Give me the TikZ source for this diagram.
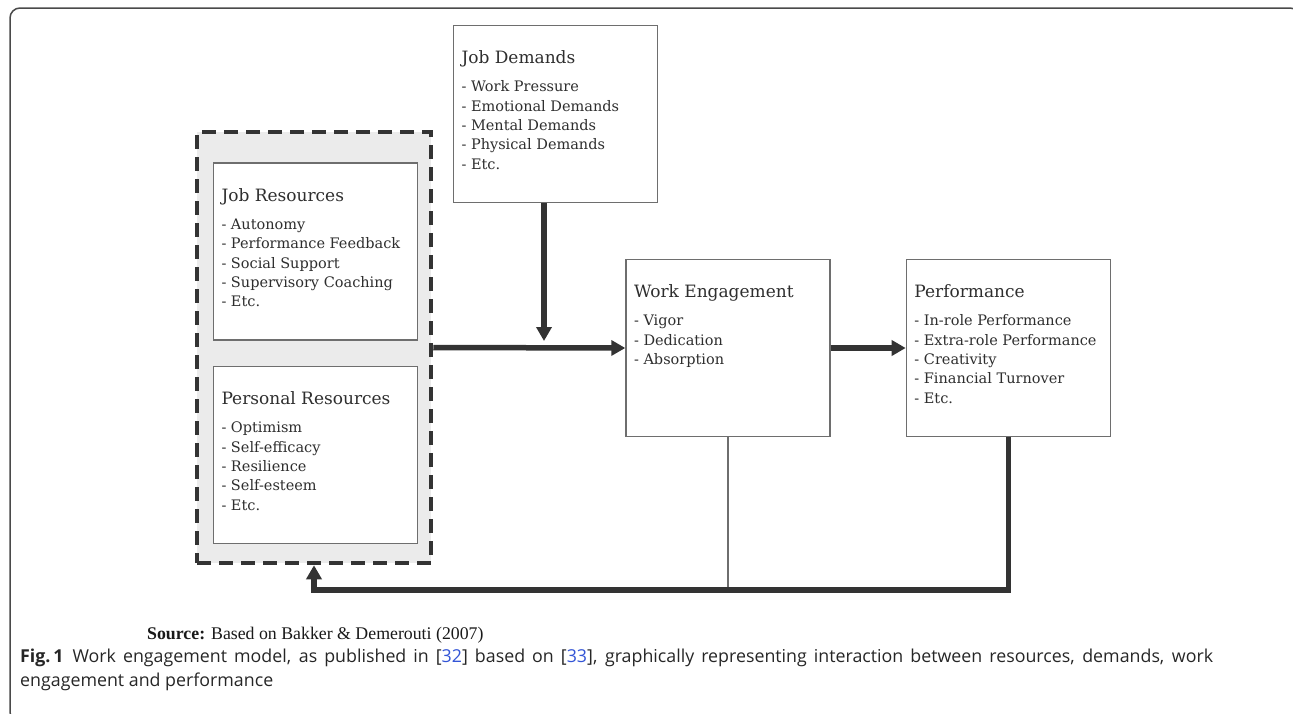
\documentclass[tikz,border=0pt]{standalone}
\usepackage{fontspec}
\setmainfont{DejaVu Serif}
\newfontfamily\srcfont{Liberation Serif}
\newfontfamily\capfont{Open Sans}
\usetikzlibrary{arrows.meta,positioning}
\definecolor{framegrey}{HTML}{4A4A4A}
\definecolor{boxgrey}{HTML}{6E6E6E}
\definecolor{arrowgrey}{HTML}{333333}
\definecolor{resourcegrey}{HTML}{EBEBEB}
\definecolor{textgrey}{HTML}{2E2E2E}
\definecolor{citeblue}{HTML}{3355D6}
\newcommand\headfont{\fontsize{17}{19.3}\selectfont}

\begin{document}
\begin{tikzpicture}[x=1pt,y=-1pt,every node/.style={align=left,text=textgrey},
  boxframe/.style={draw=boxgrey,line width=1.4pt,fill=white,minimum width=204pt,minimum height=177pt,inner sep=0pt},
  boxtext/.style={anchor=north west,inner sep=0pt,font=\fontsize{14.5}{19.3}\selectfont},
  flow/.style={draw=arrowgrey,line width=5.5pt,-{Triangle[length=14pt,width=15pt]}}]
\useasboundingbox (0,0) rectangle (1293,713);
\begin{scope}
\clip (0,0) rectangle (1293,713);
\draw[framegrey,line width=1.5pt,rounded corners=10pt] (10,8) rectangle (1300,722);
\end{scope}
% resources
\node[draw=arrowgrey,fill=resourcegrey,line width=4.5pt,dash pattern=on 14pt off 8pt,minimum width=234pt,minimum height=431pt] (res) at (314,347.5) {};
\node[boxframe] (jr) at (315.5,251.5) {};
\node[boxframe,below=25pt of jr] (pr) {};
% demands, engagement, performance
\node[boxframe] (jd) at (555.5,114) {};
\node[boxframe] (we) at (728,348) {};
\node[boxframe,right=75pt of we] (pf) {};
\node[boxtext] (jr-t) at ([shift={(8.5,26)}]jr.north west) {{\headfont Job Resources}\\[8.7pt]- Autonomy\\- Performance Feedback\\- Social Support\\- Supervisory Coaching\\- Etc.};
\node[boxtext] (pr-t) at ([shift={(8.5,26)}]pr.north west) {{\headfont Personal Resources}\\[8.7pt]- Optimism\\- Self-efficacy\\- Resilience\\- Self-esteem\\- Etc.};
\node[boxtext] (jd-t) at ([shift={(8.5,26)}]jd.north west) {{\headfont Job Demands}\\[8.7pt]- Work Pressure\\- Emotional Demands\\- Mental Demands\\- Physical Demands\\- Etc.};
\node[boxtext] (we-t) at ([shift={(8.5,26)}]we.north west) {{\headfont Work Engagement}\\[8.7pt]- Vigor\\- Dedication\\- Absorption};
\node[boxtext] (pf-t) at ([shift={(8.5,26)}]pf.north west) {{\headfont Performance}\\[8.7pt]- In-role Performance\\- Extra-role Performance\\- Creativity\\- Financial Turnover\\- Etc.};
% connectors
\coordinate (j) at (544,348);
\coordinate (fb) at (0,590);
\draw[flow] (res.east) -- (we.west);
\draw[flow] (jd.south -| j) -- ([yshift=7pt]j);
\draw[flow] (we.east) -- (pf.west);
\draw[boxgrey,line width=1.4pt] (we.south) -- (we.south |- fb);
\draw[flow] (pf.south) -- (pf.south |- fb) -| (res.south);
% source and caption
\node[anchor=base west,inner sep=0pt,text=black!90,font=\srcfont\fontsize{17.8}{22}\selectfont] (src) at (147,639) {\textbf{Source:} Based on Bakker \& Demerouti (2007)};
\node[anchor=north west,inner sep=0pt,text=black!85,text width=1193pt,align=justify,font=\capfont\fontsize{17.8}{23.5}\selectfont] (cap) at (20,649) {\textbf{Fig.\,1}\hspace{0.5em}Work engagement model, as published in [{\color{citeblue}32}] based on [{\color{citeblue}33}], graphically representing interaction between resources, demands, work\linebreak engagement and performance};
\end{tikzpicture}
\end{document}
